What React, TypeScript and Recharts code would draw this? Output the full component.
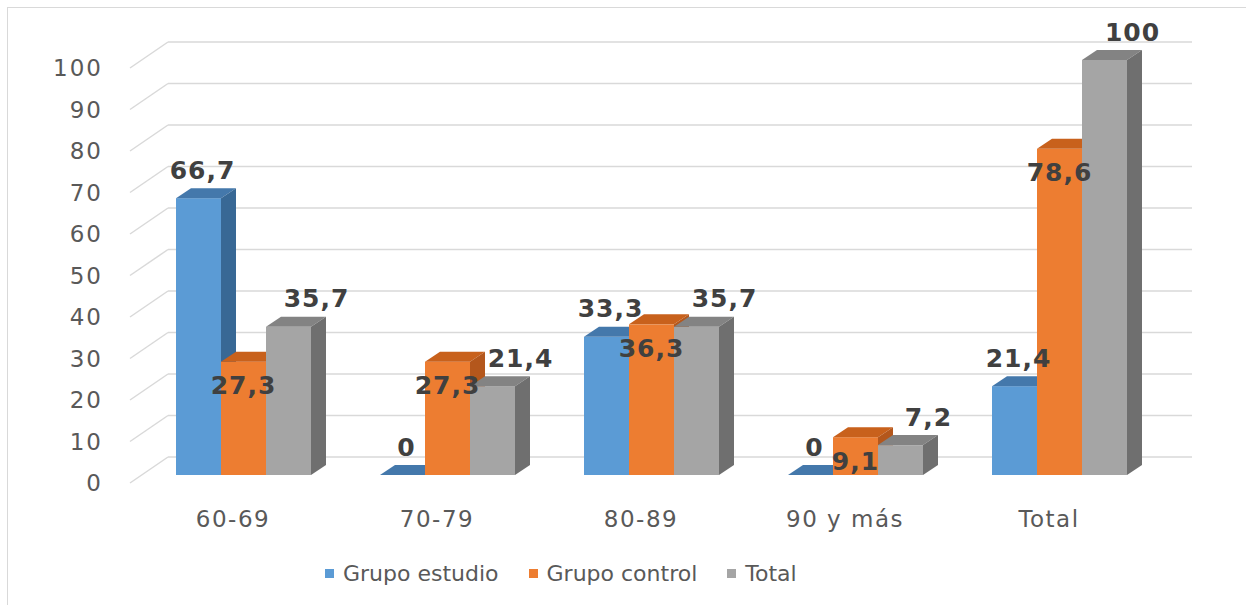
import React from 'react'
import { BarChart, Bar, XAxis, YAxis, CartesianGrid, Legend, LabelList } from 'recharts'

const categories = ['60-69', '70-79', '80-89', '90 y más', 'Total']
const grupoEstudio = [66.7, 0, 33.3, 0, 21.4]
const grupoControl = [27.3, 27.3, 36.3, 9.1, 78.6]
const totalGrupo = [35.7, 21.4, 35.7, 7.2, 100]
const yTicks = [0, 10, 20, 30, 40, 50, 60, 70, 80, 90, 100]

const data = categories.map((name, i) => ({
  name,
  estudio: grupoEstudio[i],
  control: grupoControl[i],
  total: totalGrupo[i]
}))

const FONT = '"DejaVu Sans", Verdana, sans-serif'
// profundidad de las barras 3D
const DX = 15
const DY = 10

const series = [
  { key: 'estudio', label: 'Grupo estudio', front: '#5b9bd5', top: '#4478ab', side: '#386895' },
  { key: 'control', label: 'Grupo control', front: '#ed7d31', top: '#c8611c', side: '#b4571c' },
  { key: 'total', label: 'Total', front: '#a5a5a5', top: '#838383', side: '#6f6f6f' }
]

const bar3D = (s: typeof series[number]) => (props: any) => {
  const x = Number(props.x)
  const y = Number(props.y)
  const w = Number(props.width)
  const h = Math.max(0, Number(props.height))
  return (
    <g>
      <rect x={x} y={y} width={w} height={h} fill={s.front} />
      <polygon
        points={`${x},${y} ${x + DX},${y - DY} ${x + w + DX},${y - DY} ${x + w},${y}`}
        fill={s.top}
      />
      <polygon
        points={`${x + w},${y} ${x + w + DX},${y - DY} ${x + w + DX},${y + h - DY} ${x + w},${y + h}`}
        fill={s.side}
      />
    </g>
  )
}

// posición de las etiquetas según la serie
const labelFor = (key: string) => (props: any) => {
  const x = Number(props.x)
  const y = Number(props.y)
  const w = Number(props.width)
  const txt = String(props.value).replace('.', ',')
  let cx = x + w / 2
  let cy = y - 28
  if (key === 'estudio') cx += 4
  if (key === 'control') cy = y + 24
  if (key === 'total') cx += 28
  return (
    <text
      x={cx}
      y={cy}
      textAnchor="middle"
      dominantBaseline="central"
      fontFamily={FONT}
      fontWeight="bold"
      fontSize={25}
      letterSpacing={1}
      fill="#404040"
    >
      {txt}
    </text>
  )
}

const gridLine = (p: any) => {
  const { x1, x2, y1 } = p
  return (
    <g key={`g-${y1}`}>
      <line x1={x1 - 12} y1={y1 + 8} x2={x1 + 26} y2={y1 - 18} stroke="#d9d9d9" strokeWidth={1.5} />
      <line x1={x1 + 26} y1={y1 - 18} x2={x2 + 30} y2={y1 - 18} stroke="#d9d9d9" strokeWidth={1.5} />
    </g>
  )
}

const YTick = (p: any) => (
  <text
    x={103}
    y={Number(p.y) + 8}
    textAnchor="end"
    dominantBaseline="central"
    fontFamily={FONT}
    fontSize={23}
    letterSpacing={2}
    fill="#595959"
  >
    {p.payload.value}
  </text>
)

const XTick = (p: any) => (
  <text
    x={Number(p.x) - 11}
    y={519}
    textAnchor="middle"
    dominantBaseline="central"
    fontFamily={FONT}
    fontSize={23}
    letterSpacing={1.5}
    fill="#595959"
  >
    {p.payload.value}
  </text>
)

const LegendContent = () => (
  <div style={{ display: 'flex', alignItems: 'center', paddingLeft: 325, fontFamily: FONT, fontSize: 22, color: '#595959' }}>
    {series.map((s) => (
      <div key={s.key} style={{ display: 'flex', alignItems: 'center', marginRight: 30 }}>
        <span style={{ width: 9, height: 9, background: s.front, display: 'inline-block', marginRight: 9 }} />
        <span>{s.label}</span>
      </div>
    ))}
  </div>
)

export default function App() {
  return (
    <div style={{ position: 'relative', width: 1246, height: 605, overflow: 'hidden', background: '#fff' }}>
      <style>{'body{margin:0;overflow:hidden}'}</style>
      <div
        style={{
          position: 'absolute',
          left: 7,
          top: 7,
          width: 1260,
          height: 640,
          border: '1px solid #d9d9d9'
        }}
      />
      <div style={{ position: 'absolute', left: 0, top: 0 }}>
        <BarChart
          width={1246}
          height={605}
          data={data}
          margin={{ top: 60, right: 84, bottom: 80, left: 82 }}
          barCategoryGap={34}
          barGap={0}
        >
          <CartesianGrid vertical={false} horizontal={gridLine} />
          <XAxis dataKey="name" height={50} axisLine={false} tickLine={false} tick={<XTick />} />
          <YAxis
            width={60}
            domain={[0, 100]}
            ticks={yTicks}
            interval={0}
            axisLine={false}
            tickLine={false}
            tick={<YTick />}
          />
          <Legend
            layout="horizontal"
            verticalAlign="middle"
            align="center"
            content={<LegendContent />}
            wrapperStyle={{ position: 'absolute', left: 0, top: 561, width: 1246 }}
          />
          {series.map((s) => (
            <Bar key={s.key} dataKey={s.key} name={s.label} shape={bar3D(s)} isAnimationActive={false}>
              <LabelList dataKey={s.key} content={labelFor(s.key)} />
            </Bar>
          ))}
        </BarChart>
      </div>
    </div>
  )
}
